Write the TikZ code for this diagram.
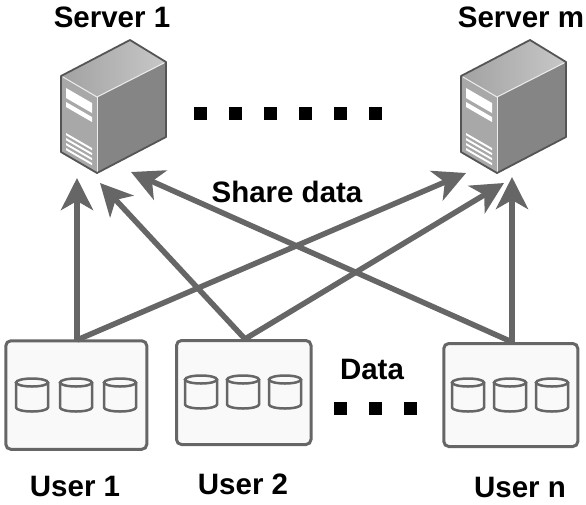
\documentclass[tikz,border=0pt]{standalone}
\usepackage{fontspec}
\setmainfont{Liberation Sans}
\usetikzlibrary{arrows.meta}
\definecolor{linegray}{HTML}{666666}
\definecolor{boxfill}{HTML}{F9F9F9}
\definecolor{frontgray}{HTML}{A8A8A8}
\definecolor{topgray}{HTML}{BEBEBE}
\definecolor{sidegray}{HTML}{858585}
\definecolor{edgegray}{HTML}{555555}

\begin{document}
\begin{tikzpicture}[
    x=1pt, y=-1pt,
    >={Stealth[length=32pt, width=32pt, inset=9pt]},
    label/.style={font=\fontsize{29.5}{33}\selectfont\bfseries, inner sep=0pt},
    userbox/.style={draw=linegray, fill=boxfill, line width=3pt, rounded corners=5pt,
                    anchor=north west, inner sep=0pt},
    dot/.style={fill=black, minimum size=13pt, inner sep=0pt},
    link/.style={->, draw=linegray, line width=5.5pt},
    pics/disk/.style={code={
        \draw[linegray, fill=boxfill, line width=2.5pt]
            (-16,-12.5) -- (-16,12.5) arc[x radius=16, y radius=4, start angle=180, end angle=0]
            -- (16,-12.5);
        \draw[linegray, fill=boxfill, line width=2.5pt] (0,-12.5) ellipse[x radius=16, y radius=4];
    }},
    pics/server/.style={code={
        \fill[frontgray] (0,36) -- (36,57) -- (36,133) -- (0,112) -- cycle;
        \shade[left color=topgray!85!black, right color=topgray!85!white]
            (0,36) -- (69,0) -- (105,22) -- (36,57) -- cycle;
        \fill[sidegray] (36,57) -- (105,22) -- (105,97) -- (36,133) -- cycle;
        \fill[white] (5,48) -- (31,63) -- (31,73) -- (5,58) -- cycle;
        \fill[white] (5,62) -- (31,77) -- (31,82) -- (5,67) -- cycle;
        \foreach \barY in {93,98,103,108}
            \fill[white] (5,\barY) -- (31,\barY+15) -- (31,\barY+17.2) -- (5,\barY+2.2) -- cycle;
        \draw[white!80!frontgray, line width=1pt] (2,37) -- (36,57) -- (103,23);
        \draw[white!80!frontgray, line width=1pt] (36,57) -- (36,132);
        \draw[edgegray, line width=1.8pt, line join=round]
            (0,36) -- (69,0) -- (105,22) -- (105,97) -- (36,133) -- (0,112) -- cycle;
    }}
  ]
    \useasboundingbox (0,0) rectangle (586,504);

    % servers
    \pic (s1) at (61,40) {server};
    \pic (sm) at (461,40) {server};
    \node[label] (s1name) at (112,17) {Server 1};
    \node[label] (smname) at (521,17) {Server m};

    % users
    \node[userbox, minimum width=141pt, minimum height=108.5pt] (u1) at (4.3,339.3) {};
    \node[userbox, minimum width=134.5pt, minimum height=104pt] (u2) at (175,339) {};
    \node[userbox, minimum width=134pt, minimum height=103pt] (un) at (442.3,342) {};

    \foreach \xpos [count=\i] in {32,76,120}
        \pic (ua\i) at (\xpos,395) {disk};
    \foreach \xpos [count=\i] in {201,243,285}
        \pic (ub\i) at (\xpos,392) {disk};
    \foreach \xpos [count=\i] in {468,510,552}
        \pic (uc\i) at (\xpos,395) {disk};

    \node[label] (u1name) at (75,486) {User 1};
    \node[label] (u2name) at (243,484) {User 2};
    \node[label] (unname) at (520,487) {User n};

    \node[label] (share) at (287,192) {Share data};
    \node[label] (data) at (372,369) {Data};

    % dots
    \foreach \xpos [count=\i] in {200,235,270,305,340,375}
        \node[dot] (top\i) at (\xpos,113) {};
    \foreach \xpos [count=\i] in {340,375,410}
        \node[dot] (low\i) at (\xpos,408) {};

    % arrow ends
    \coordinate (a1) at (77,178);
    \coordinate (a2) at (100,183);
    \coordinate (a3) at (131,172);
    \coordinate (b1) at (466,173);
    \coordinate (b2) at (504,183);
    \coordinate (b3) at (512,177);
    \coordinate (f1) at (77,340);
    \coordinate (f2) at (245,339);
    \coordinate (fn) at (512,342);

    \draw[link] (f1) -- (a1);
    \draw[link] (f1) -- (b1);
    \draw[link] (f2) -- (a2);
    \draw[link] (f2) -- (b2);
    \draw[link] (fn) -- (a3);
    \draw[link] (fn) -- (b3);
\end{tikzpicture}
\end{document}
